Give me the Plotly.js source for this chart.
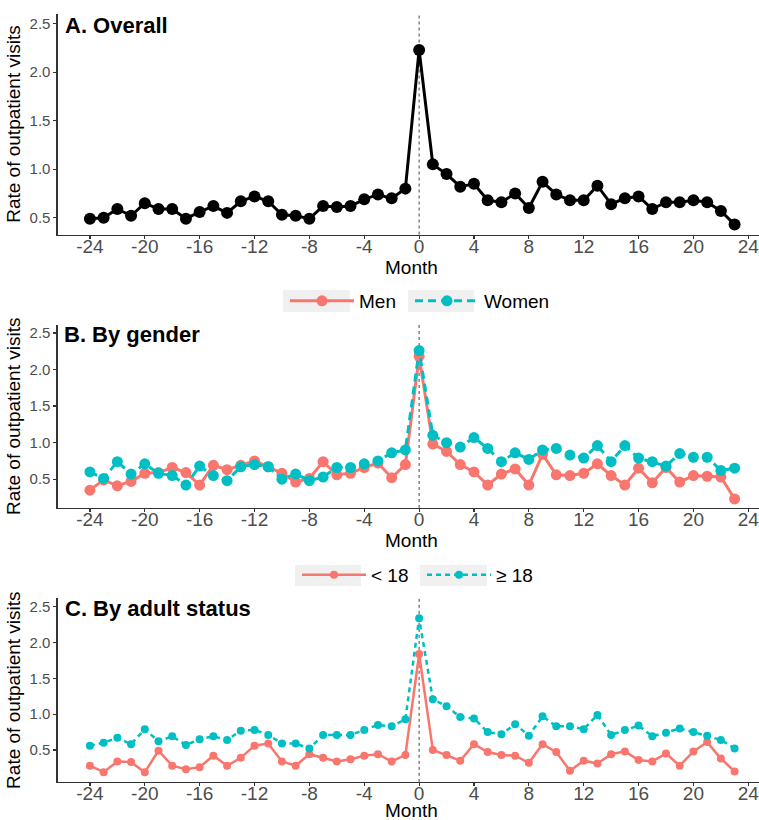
<!DOCTYPE html>
<html>
<head>
<meta charset="utf-8">
<script src="https://cdn.plot.ly/plotly-3.0.1.min.js"></script>
<style>html,body{margin:0;padding:0;background:#fff;}#chart{width:759px;height:820px;}</style>
</head>
<body>
<div id="chart"></div>
<script>
const months = [-24,-23,-22,-21,-20,-19,-18,-17,-16,-15,-14,-13,-12,-11,-10,-9,-8,-7,-6,-5,-4,-3,-2,-1,
  0,1,2,3,4,5,6,7,8,9,10,11,12,13,14,15,16,17,18,19,20,21,22,23];

const overall = [0.49,0.50,0.59,0.52,0.65,0.59,0.59,0.49,0.56,0.62,0.55,0.67,0.72,0.67,0.53,0.52,0.49,0.62,0.61,0.62,0.69,0.74,0.70,0.80,
  2.23,1.05,0.95,0.82,0.85,0.68,0.66,0.75,0.60,0.87,0.74,0.68,0.68,0.83,0.64,0.70,0.72,0.59,0.66,0.66,0.68,0.66,0.57,0.43];

const men = [0.35,0.49,0.41,0.47,0.58,0.59,0.66,0.59,0.42,0.69,0.63,0.69,0.75,0.67,0.58,0.46,0.51,0.74,0.56,0.58,0.66,0.72,0.52,0.70,
  2.18,0.98,0.88,0.70,0.60,0.42,0.57,0.64,0.42,0.84,0.56,0.55,0.58,0.71,0.55,0.42,0.65,0.45,0.66,0.46,0.55,0.54,0.53,0.23];

const women = [0.60,0.51,0.74,0.57,0.71,0.58,0.55,0.42,0.68,0.55,0.48,0.67,0.70,0.67,0.50,0.57,0.48,0.53,0.66,0.66,0.71,0.75,0.86,0.90,
  2.26,1.10,1.00,0.94,1.07,0.92,0.74,0.86,0.77,0.90,0.92,0.83,0.79,0.96,0.74,0.96,0.79,0.74,0.68,0.85,0.80,0.80,0.62,0.65];

const under18 = [0.28,0.19,0.34,0.33,0.19,0.49,0.28,0.23,0.26,0.42,0.28,0.39,0.56,0.59,0.34,0.28,0.44,0.39,0.34,0.37,0.42,0.44,0.34,0.43,
  1.84,0.50,0.43,0.35,0.58,0.47,0.43,0.42,0.32,0.58,0.47,0.21,0.35,0.31,0.44,0.48,0.36,0.34,0.45,0.28,0.48,0.61,0.38,0.20];

const adult = [0.56,0.60,0.67,0.58,0.79,0.62,0.69,0.57,0.65,0.69,0.64,0.77,0.78,0.71,0.59,0.59,0.52,0.71,0.71,0.71,0.78,0.85,0.83,0.93,
  2.34,1.21,1.11,0.96,0.94,0.75,0.72,0.86,0.70,0.97,0.83,0.83,0.79,0.99,0.71,0.78,0.84,0.69,0.74,0.80,0.75,0.70,0.64,0.52];

const xTickVals = [-24,-20,-16,-12,-8,-4,0,4,8,12,16,20,24];
const xTickText = ['-24','-20','-16','-12','-8','-4','0','4','8','12','16','20','24'];
const yTickVals = [0.5,1.0,1.5,2.0,2.5];
const yTickText = ['0.5','1.0','1.5','2.0','2.5'];

const panelTitles = ['A. Overall','B. By gender','C. By adult status'];
const xTitle = 'Month';
const yTitle = 'Rate of outpatient visits';
const genderNames = ['Men','Women'];
const ageNames = ['< 18','\u2265 18'];

const RED = '#F8766D', TEAL = '#00BFC4';
const FONT = 'Liberation Sans, Arial, Helvetica, sans-serif';

const traces = [
  {x: months, y: overall, xaxis:'x', yaxis:'y', mode:'lines+markers', showlegend:false,
   line:{color:'#000', width:3}, marker:{color:'#000', size:12}},
  {x: months, y: men, xaxis:'x2', yaxis:'y2', mode:'lines+markers', name: genderNames[0], legend:'legend',
   line:{color:RED, width:3}, marker:{color:RED, size:11}},
  {x: months, y: women, xaxis:'x2', yaxis:'y2', mode:'lines+markers', name: genderNames[1], legend:'legend2',
   line:{color:TEAL, width:3, dash:'8px,5px'}, marker:{color:TEAL, size:11}},
  {x: months, y: under18, xaxis:'x3', yaxis:'y3', mode:'lines+markers', name: ageNames[0], legend:'legend3',
   line:{color:RED, width:2.5}, marker:{color:RED, size:8}},
  {x: months, y: adult, xaxis:'x3', yaxis:'y3', mode:'lines+markers', name: ageNames[1], legend:'legend4',
   line:{color:TEAL, width:2.5, dash:'5px,4px'}, marker:{color:TEAL, size:8}}
];

function xa(anchor){
  return {domain:[0.076,1], range:[-26.35,24.78], anchor:anchor, tickvals:xTickVals, ticktext:xTickText,
    showline:true, linecolor:'#333', linewidth:1.2, ticks:'outside', ticklen:3, tickcolor:'#333', tickwidth:1.2,
    tickfont:{size:19, color:'#4d4d4d', family:FONT}, showgrid:false, zeroline:false,
    ticklabeloverflow:'allow', ticklabelstandoff:-9};
}
function ya(anchor, dom, rng){
  return {domain:dom, range:rng, anchor:anchor, tickvals:yTickVals, ticktext:yTickText,
    showline:true, linecolor:'#333', linewidth:1.2, ticks:'outside', ticklen:3, tickcolor:'#333', tickwidth:1.2,
    tickfont:{size:15, color:'#4d4d4d', family:FONT}, showgrid:false, zeroline:false,
    title:{text:yTitle, font:{size:19, color:'#000', family:FONT}, standoff:4}};
}

function vline(xr, yr){
  return {type:'line', xref:xr, yref:yr+' domain', x0:0, x1:0, y0:0, y1:1,
    line:{color:'#444', width:1, dash:'dot'}, layer:'below'};
}
function keyBox(x0,x1,y0,y1){
  return {type:'rect', xref:'paper', yref:'paper', x0:x0/759, x1:x1/759, y0:1-y1/820, y1:1-y0/820,
    fillcolor:'#F0F0F0', line:{width:0}, layer:'below'};
}
function note(text, px, py, size, weight, anchor){
  return {text:text, xref:'paper', yref:'paper', x:px/759, y:1-py/820, xanchor:anchor, yanchor:'middle',
    showarrow:false, font:{size:size, color:'#000', family:FONT, weight:weight}};
}
function leg(px, py){
  return {orientation:'h', xanchor:'left', yanchor:'middle', x:px/759, y:1-py/820,
    font:{size:19, color:'#000', family:FONT}, bgcolor:'rgba(0,0,0,0)', itemwidth:64};
}

const layout = {
  width:759, height:820, margin:{l:0,r:0,t:0,b:0},
  paper_bgcolor:'#fff', plot_bgcolor:'rgba(0,0,0,0)',
  font:{family:FONT},
  xaxis: xa('y'), yaxis: ya('x',[0.714,0.9834],[0.327,2.604]),
  xaxis2: xa('y2'), yaxis2: ya('x2',[0.3805,0.6041],[0.106,2.614]),
  xaxis3: xa('y3'), yaxis3: ya('x3',[0.0465,0.2702],[0.054,2.617]),
  legend: leg(285, 301),
  legend2: leg(410, 301),
  legend3: leg(297, 575),
  legend4: leg(422, 575),
  shapes:[vline('x','y'), vline('x2','y2'), vline('x3','y3'),
    keyBox(283,350,290,312), keyBox(408,474,290,312),
    keyBox(295,361,565,586), keyBox(420,487,565,586)],
  annotations:[
    note(panelTitles[0], 63, 25, 22, 'bold', 'left'),
    note(panelTitles[1], 62, 335, 22, 'bold', 'left'),
    note(panelTitles[2], 63, 608, 22, 'bold', 'left'),
    note(xTitle, 411, 267, 19, 'normal', 'center'),
    note(xTitle, 411, 540, 19, 'normal', 'center'),
    note(xTitle, 411, 810, 19, 'normal', 'center')
  ]
};

Plotly.newPlot('chart', traces, layout, {displayModeBar:false, staticPlot:true});
</script>
</body>
</html>
